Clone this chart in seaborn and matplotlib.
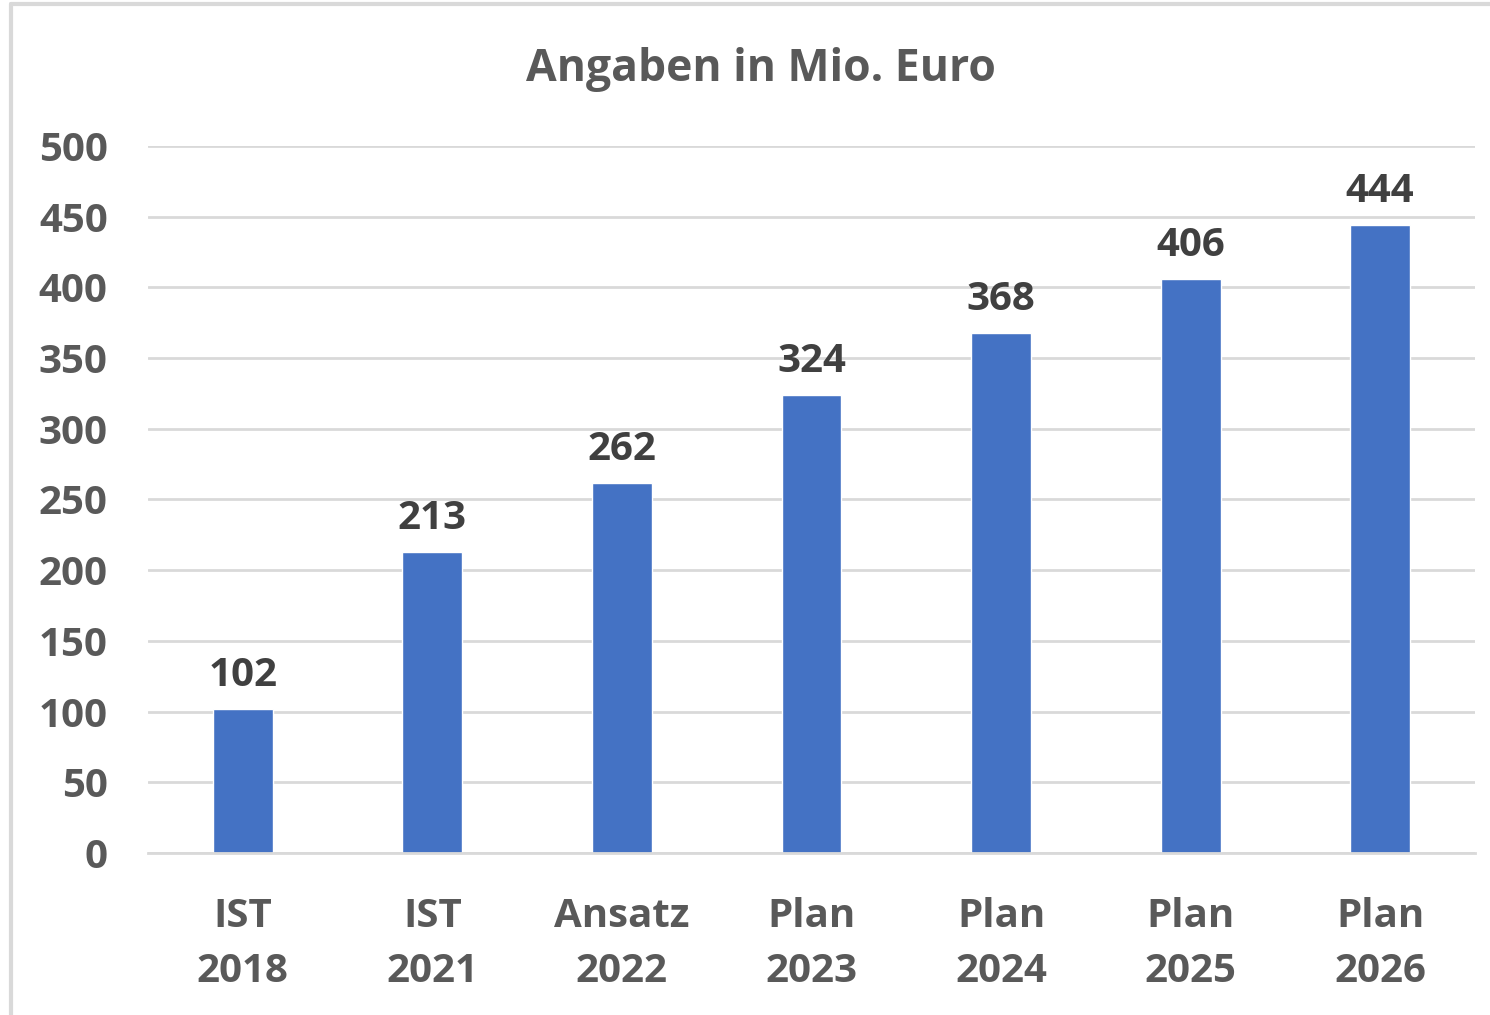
import matplotlib.pyplot as plt
import seaborn as sns
import pandas as pd
from matplotlib.lines import Line2D

# chart data
categories = ["IST\n2018", "IST\n2021", "Ansatz\n2022", "Plan\n2023",
              "Plan\n2024", "Plan\n2025", "Plan\n2026"]
values = [102, 213, 262, 324, 368, 406, 444]
y_ticks = [0, 50, 100, 150, 200, 250, 300, 350, 400, 450, 500]

df = pd.DataFrame({"label": categories, "value": values})

sns.set_theme(style="white")
plt.rcParams["font.family"] = ["Open Sans", "DejaVu Sans"]

tick_color = "#595959"
label_color = "#404040"
bar_color = "#4472C4"

fig = plt.figure(figsize=(14.9, 10.15), dpi=100)
ax = fig.add_axes([0.0993, 0.1596, 0.8906, 0.6966])

sns.barplot(data=df, x="label", y="value", color=bar_color, width=0.316,
            saturation=1, ax=ax)

ax.set_ylim(0, 500)
ax.set_xlim(-0.5, len(categories) - 0.5)
ax.set_yticks(y_ticks)
ax.yaxis.grid(True, color="#d9d9d9", linewidth=2)
ax.set_axisbelow(True)
for s in ["top", "right", "left"]:
    ax.spines[s].set_visible(False)
ax.spines["bottom"].set_color("#d9d9d9")
ax.spines["bottom"].set_linewidth(2)
ax.set_xlabel("")
ax.set_ylabel("")

ax.tick_params(axis="both", length=0, labelsize=29, labelcolor=tick_color)
ax.tick_params(axis="y", pad=29)
ax.tick_params(axis="x", pad=32)
for t in ax.get_xticklabels() + ax.get_yticklabels():
    t.set_fontweight("bold")
for t in ax.get_xticklabels():
    t.set_linespacing(1.52)

for i, v in enumerate(values):
    ax.annotate(str(v), (i, v), xytext=(0, 10), textcoords="offset points",
                ha="center", va="bottom", fontsize=29, fontweight="bold",
                color=label_color)

fig.text(0.511, 0.932, "Angaben in Mio. Euro", ha="center", va="center",
         fontsize=32, fontweight="bold", color=tick_color)

# outer chart frame (left and top edges)
fig.add_artist(Line2D([11 / 1490, 11 / 1490], [0, 1 - 4 / 1015],
                      transform=fig.transFigure, color="#d9d9d9", linewidth=3))
fig.add_artist(Line2D([11 / 1490, 1], [1 - 4 / 1015, 1 - 4 / 1015],
                      transform=fig.transFigure, color="#d9d9d9", linewidth=3))

fig.savefig("out.png", dpi=100)
